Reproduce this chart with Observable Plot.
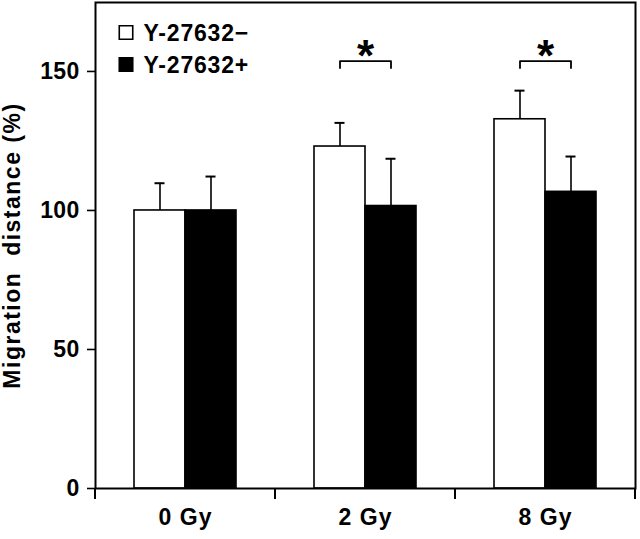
<!DOCTYPE html>
<html>
<head>
<meta charset="utf-8">
<script src="https://cdn.jsdelivr.net/npm/d3@7"></script>
<script src="https://cdn.jsdelivr.net/npm/@observablehq/plot@0.6"></script>
<style>
  html, body { margin: 0; padding: 0; background: white; }
</style>
</head>
<body>
<div id="chart"></div>
<script>
// ---- data ----
const groups = ["0 Gy", "2 Gy", "8 Gy"];
const treatments = ["Y-27632−", "Y-27632+"];
const meanMinus = [100, 123.0, 132.8];
const upperMinus = [109.8, 131.5, 143.1];
const meanPlus = [100, 101.6, 106.7];
const upperPlus = [112.2, 118.6, 119.4];
const significant = [false, true, true];
const bracketTop = [null, 153.7, 153.7];
const bracketFoot = [null, 151.2, 151.2];
const yTicks = [0, 50, 100, 150];
const yLabel = "Migration  distance (%)";

// ---- tables built from arrays ----
const rows = groups.flatMap((g, i) => [
  {group: g, treatment: treatments[0], mean: meanMinus[i], upper: upperMinus[i]},
  {group: g, treatment: treatments[1], mean: meanPlus[i], upper: upperPlus[i]}
]);
const brackets = groups.flatMap((g, i) => significant[i] ? [
  {group: g, treatment: treatments[0], y: bracketFoot[i]},
  {group: g, treatment: treatments[0], y: bracketTop[i]},
  {group: g, treatment: treatments[1], y: bracketTop[i]},
  {group: g, treatment: treatments[1], y: bracketFoot[i]}
] : []);
const stars = groups.map((g, i) => ({group: g, y: bracketTop[i], sig: significant[i]})).filter(d => d.sig);
const fillOf = t => t === treatments[0] ? "white" : "black";

const font = "'Liberation Sans', Arial, Helvetica, sans-serif";

const chart = Plot.plot({
  width: 640,
  height: 539,
  marginLeft: 94,
  marginRight: 4,
  marginTop: 2,
  marginBottom: 51,
  style: {fontFamily: font, fontWeight: "bold", background: "white", color: "black", overflow: "visible"},
  fx: {domain: groups, padding: 0, label: null},
  x: {domain: treatments, paddingInner: 0, paddingOuter: 0.737, axis: null},
  y: {domain: [0, 174.8]},
  marks: [
    Plot.barY(rows, {fx: "group", x: "treatment", y: "mean", fill: d => fillOf(d.treatment), stroke: "black", strokeWidth: 1.6}),
    Plot.ruleX(rows, {fx: "group", x: "treatment", y1: "mean", y2: "upper", stroke: "black", strokeWidth: 1.6}),
    Plot.tickY(rows, {fx: "group", x: "treatment", y: "upper", insetLeft: 20.5, insetRight: 20.5, stroke: "black", strokeWidth: 2}),
    Plot.line(brackets, {fx: "group", x: "treatment", y: "y", z: "group", stroke: "black", strokeWidth: 1.8, curve: "linear"}),
    Plot.text(stars, {fx: "group", y: "y", text: () => "*", fontSize: 44, fontWeight: "bold", lineAnchor: "middle", dy: -4, fill: "black"}),
    ...treatments.map((t, i) => Plot.dot([{group: groups[0], treatment: t}], {
      fx: "group", frameAnchor: "top-left", dx: 30.5, dy: 30 + i * 32,
      symbol: "square", r: 7.6, fill: fillOf(t), stroke: "black", strokeWidth: 1.6
    })),
    ...treatments.map((t, i) => Plot.text([{group: groups[0], treatment: t}], {
      fx: "group", frameAnchor: "top-left", dx: 48, dy: 31 + i * 32,
      text: "treatment", textAnchor: "start", lineAnchor: "middle", fontSize: 23, fontWeight: "bold", fill: "black"
    })),
    Plot.frame({facet: "super", stroke: "black", strokeWidth: 2}),
    Plot.axisY({ticks: yTicks, tickSize: 8, tickPadding: 8, fontSize: 23, strokeWidth: 1.6,
      label: yLabel, labelAnchor: "center", labelArrow: "none", labelOffset: 92}),
    Plot.axisFx({anchor: "bottom", tickSize: 0, tickPadding: 20, fontSize: 23, label: null})
  ]
});

document.getElementById("chart").appendChild(chart);

// boundary ticks on the x axis, from the fx scale
const svg = d3.select(chart.tagName.toLowerCase() === "svg" ? chart : chart.querySelector("svg"));
const fx = chart.scale("fx");
const y = chart.scale("y");
const y0 = y.apply(0);
const edges = fx.domain.map(d => fx.apply(d)).concat([fx.apply(fx.domain[fx.domain.length - 1]) + fx.bandwidth]);
svg.append("g").attr("stroke", "black").attr("stroke-width", 2)
  .selectAll("line").data(edges).join("line")
  .attr("x1", d => d).attr("x2", d => d).attr("y1", y0).attr("y2", y0 + 11);

// wide letter spacing as in the reference
svg.selectAll("[aria-label='fx-axis tick label'] text").style("letter-spacing", "1px");
svg.selectAll("[aria-label='y-axis tick label'] text").style("letter-spacing", "0.3px");
svg.selectAll("[aria-label='y-axis label'] text").style("letter-spacing", "1.5px");
svg.selectAll("[aria-label='text'] text").filter(function() { return this.textContent !== "*"; }).style("letter-spacing", "0.8px");
</script>
</body>
</html>
